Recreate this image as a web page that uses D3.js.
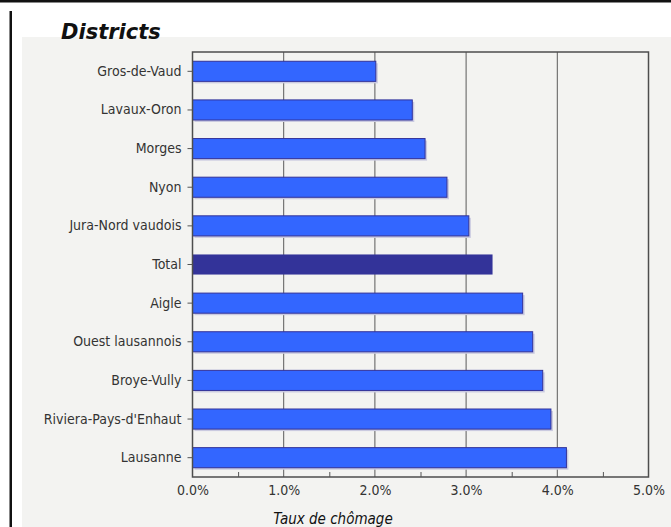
<!DOCTYPE html>
<html>
<head>
<meta charset="utf-8">
<script src="https://cdn.jsdelivr.net/npm/d3@7"></script>
<style>
  body { margin: 0; background: #fff; }
  svg { display: block; }
  .lbl { font-family: "DejaVu Sans Condensed", "DejaVu Sans", sans-serif; font-size: 14px; fill: #333; }
</style>
</head>
<body>
<div id="chart"></div>
<script>
// données
const districts = ["Gros-de-Vaud", "Lavaux-Oron", "Morges", "Nyon", "Jura-Nord vaudois", "Total",
  "Aigle", "Ouest lausannois", "Broye-Vully", "Riviera-Pays-d'Enhaut", "Lausanne"];
const rates = [2.01, 2.41, 2.55, 2.79, 3.03, 3.29, 3.62, 3.73, 3.84, 3.93, 4.10];
const xTicks = [0, 1, 2, 3, 4, 5];
const xMinor = [0.5, 1.5, 2.5, 3.5, 4.5];

const W = 671, H = 527;
const plot = { left: 192.5, right: 648.5, top: 52, bottom: 477 };

const svg = d3.select("#chart").append("svg")
    .attr("width", W)
    .attr("height", H);

// cadre extérieur
svg.append("rect").attr("x", 0).attr("y", 0).attr("width", W).attr("height", H).attr("fill", "#fff");
svg.append("rect").attr("x", 22).attr("y", 37).attr("width", W - 22).attr("height", H - 37).attr("fill", "#f3f3f1");
svg.append("rect").attr("x", 0).attr("y", 0).attr("width", W).attr("height", 2.5).attr("fill", "#111");
svg.append("rect").attr("x", 9.5).attr("y", 11).attr("width", 2.5).attr("height", H - 11).attr("fill", "#111");

svg.append("text")
    .attr("x", 61)
    .attr("y", 39)
    .style("font-family", "'DejaVu Sans', sans-serif")
    .style("font-size", "21px")
    .style("font-weight", "bold")
    .style("font-style", "italic")
    .attr("fill", "#111")
    .text("Districts");

const x = d3.scaleLinear().domain([0, 5]).range([plot.left, plot.right]);
const y = d3.scaleBand()
    .domain(districts)
    .range([plot.top, plot.bottom])
    .paddingInner(0.48)
    .paddingOuter(0.24);

// grille
svg.append("g")
    .selectAll("line")
    .data(xTicks.slice(1, -1))
    .join("line")
    .attr("x1", d => x(d)).attr("x2", d => x(d))
    .attr("y1", plot.top).attr("y2", plot.bottom)
    .attr("stroke", "#5a5a5a")
    .attr("stroke-width", 1);

// barres (ombre puis barre)
const data = districts.map((d, i) => ({ name: d, value: rates[i] }));

svg.append("g")
    .selectAll("rect")
    .data(data.filter(d => d.name !== "Total"))
    .join("rect")
    .attr("x", x(0) + 2)
    .attr("y", d => y(d.name) + 2)
    .attr("width", d => x(d.value) - x(0))
    .attr("height", y.bandwidth())
    .attr("fill", "#cacae0");

svg.append("g")
    .selectAll("rect")
    .data(data)
    .join("rect")
    .attr("x", x(0))
    .attr("y", d => y(d.name))
    .attr("width", d => x(d.value) - x(0))
    .attr("height", y.bandwidth())
    .attr("fill", d => d.name === "Total" ? "#333399" : "#3366ff")
    .attr("stroke", d => d.name === "Total" ? "none" : "#333399")
    .attr("stroke-width", 1);

// cadre du graphique
svg.append("rect")
    .attr("x", plot.left)
    .attr("y", plot.top)
    .attr("width", plot.right - plot.left)
    .attr("height", plot.bottom - plot.top)
    .attr("fill", "none")
    .attr("stroke", "#4d4d4d")
    .attr("stroke-width", 1.5);

// axe Y
const yAxis = svg.append("g")
    .attr("transform", `translate(${plot.left},0)`)
    .call(d3.axisLeft(y).tickSize(5).tickPadding(6));
yAxis.select(".domain").remove();
yAxis.selectAll("line").attr("stroke", "#555");
yAxis.selectAll("text").attr("class", "lbl").attr("font-family", null).attr("font-size", null);

// axe X
const xAxis = svg.append("g")
    .attr("transform", `translate(0,${plot.bottom})`)
    .call(d3.axisBottom(x).tickValues(xTicks).tickSize(0).tickPadding(8)
        .tickFormat(d => d.toFixed(1) + "%"));
xAxis.select(".domain").remove();
xAxis.selectAll("text").attr("class", "lbl").attr("font-family", null).attr("font-size", null);

const xMinorAxis = svg.append("g")
    .attr("transform", `translate(0,${plot.bottom})`)
    .call(d3.axisBottom(x).tickValues(xMinor).tickSize(-5).tickFormat(""));
xMinorAxis.select(".domain").remove();
xMinorAxis.selectAll("line").attr("stroke", "#555");

svg.append("text")
    .attr("x", 333)
    .attr("y", 524)
    .attr("text-anchor", "middle")
    .style("font-family", "'DejaVu Sans Condensed', 'DejaVu Sans', sans-serif")
    .style("font-size", "15px")
    .style("font-style", "italic")
    .attr("fill", "#111")
    .text("Taux de chômage");
</script>
</body>
</html>
